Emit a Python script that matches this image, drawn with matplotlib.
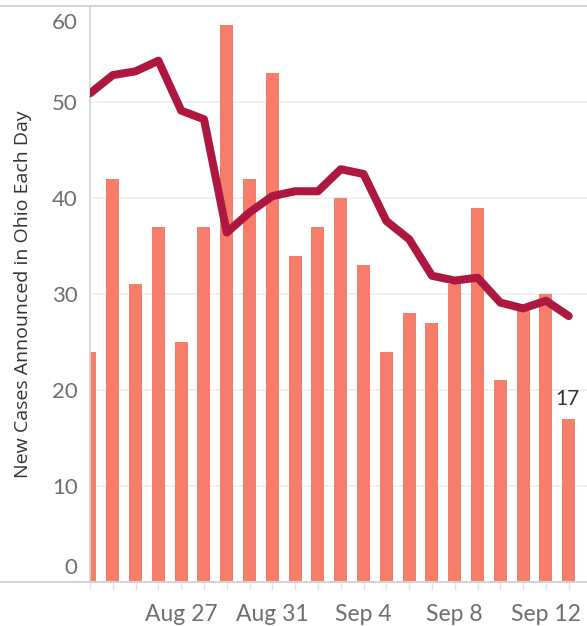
import matplotlib
matplotlib.use("Agg")
import matplotlib.pyplot as plt
import matplotlib.dates as mdates
import matplotlib.transforms as mtransforms
from matplotlib.lines import Line2D
import pandas as pd

# ---------------------------------------------------------------------------
# Data — daily new cases and rolling average, Aug 23 to Sep 13
# ---------------------------------------------------------------------------
dates = pd.date_range("2020-08-23", "2020-09-13", freq="D")
new_cases = [24, 42, 31, 37, 25, 37, 58, 42, 53, 34, 37,
             40, 33, 24, 28, 27, 31, 39, 21, 29, 30, 17]
rolling_avg = [50.9, 52.8, 53.2, 54.3, 49.1, 48.2, 36.4, 38.5, 40.2, 40.7, 40.7,
               43.0, 42.5, 37.6, 35.7, 31.9, 31.4, 31.7, 29.1, 28.5, 29.3, 27.7]
tick_days = ["2020-08-27", "2020-08-31", "2020-09-04", "2020-09-08", "2020-09-12"]
tick_labels = ["Aug 27", "Aug 31", "Sep 4", "Sep 8", "Sep 12"]
y_ticks = [0, 10, 20, 30, 40, 50, 60]

BAR = "#f67d6a"
LINE = "#ae1840"
GRID = "#efefef"
BORDER = "#d3d3d3"
TICK_TXT = "#6e6e6e"

plt.rcParams["font.family"] = ["Lato", "DejaVu Sans"]

W, H = 587, 626
fig = plt.figure(figsize=(W / 100, H / 100), dpi=100)
ax_left, ax_right, ax_bottom, ax_top = 90, 587, 582, 6
ax = fig.add_axes([ax_left / W, (H - ax_bottom) / H,
                   (ax_right - ax_left) / W, (ax_bottom - ax_top) / H])

x = mdates.date2num(dates)
ax.bar(x, new_cases, width=0.57, color=BAR, zorder=2)
ax.plot(x, rolling_avg, color=LINE, linewidth=5.8, solid_capstyle="round",
        solid_joinstyle="round", zorder=3)

# label on the most recent day
ax.annotate(str(new_cases[-1]), (x[-1], new_cases[-1]), xytext=(-1, 7),
            textcoords="offset points", ha="center", va="bottom",
            fontsize=15, color="#333333", zorder=4)

ax.set_ylim(0, 60)
ax.set_xlim(x[0], x[0] + 21.8)

ax.set_yticks(y_ticks)
ax.set_yticklabels([str(v) for v in y_ticks])
ax.yaxis.grid(True, color=GRID, linewidth=1.2, zorder=0)
ax.set_axisbelow(True)
ax.tick_params(axis="y", length=0, pad=9, labelsize=16, labelcolor=TICK_TXT)

# shift edge labels inside the pane, as the original does
ylabels = ax.get_yticklabels()
ylabels[0].set_transform(ylabels[0].get_transform() +
                         mtransforms.ScaledTranslation(0, 16 / 100, fig.dpi_scale_trans))
ylabels[-1].set_transform(ylabels[-1].get_transform() +
                          mtransforms.ScaledTranslation(0, -15 / 100, fig.dpi_scale_trans))

ax.set_xticks(mdates.date2num(pd.to_datetime(tick_days)))
ax.set_xticklabels(tick_labels)
ax.set_xticks(x, minor=True)
ax.tick_params(axis="x", which="both", length=6, width=1, color="#e2e2e2",
               labelsize=16.5, labelcolor=TICK_TXT, pad=10)

fig.text(23 / W, 1 - 294 / H, "New Cases Announced in Ohio Each Day",
         rotation=90, ha="center", va="center", fontsize=14,
         family=["Open Sans", "DejaVu Sans"], color="#333333")

for side in ["top", "right", "bottom"]:
    ax.spines[side].set_visible(False)
ax.spines["left"].set_color(BORDER)
ax.spines["left"].set_linewidth(1.2)

# full-width top and bottom rules
for ypix in (ax_top, ax_bottom):
    fig.add_artist(Line2D([0, 1], [1 - ypix / H, 1 - ypix / H],
                          transform=fig.transFigure, color=BORDER, linewidth=1.5))

fig.savefig("out.png", dpi=100)
